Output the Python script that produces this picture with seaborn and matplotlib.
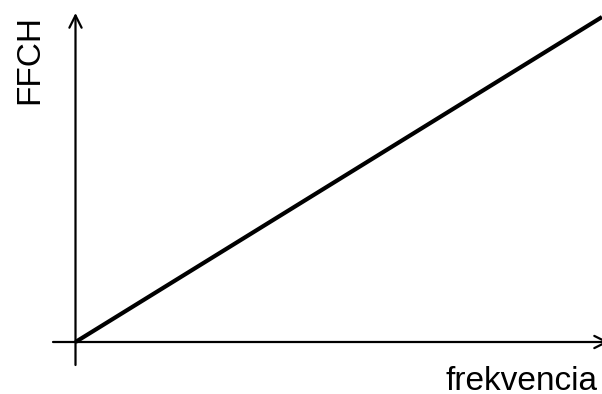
import matplotlib
matplotlib.use("Agg")
import matplotlib.pyplot as plt
import seaborn as sns
import pandas as pd

# Data
frekvencia = [0.0, 1.0]
ffch = [0.0, 1.0]
x_label = "frekvencia"
y_label = "FFCH"

sns.set_theme(style="white")
plt.rcParams['font.family'] = ['Liberation Sans', 'DejaVu Sans']

W, H = 602, 394
fig = plt.figure(figsize=(W / 100, H / 100), dpi=100)
ax = fig.add_axes([0, 0, 1, 1])
ax.set_axis_off()

df = pd.DataFrame({"x": frekvencia, "y": ffch})
sns.lineplot(data=df, x="x", y="y", ax=ax, color="black", linewidth=3.0,
             solid_capstyle="butt")

# map origin to pixel (75.5, 342 from top), (1,1) to (602, 17 from top)
x0, x1 = 75.5, 602.0
y0, y1 = H - 342.0, H - 17.0
sx = (x1 - x0)
sy = (y1 - y0)
ax.set_xlim(-x0 / sx, (W - x0) / sx)
ax.set_ylim(-y0 / sy, (H - y0) / sy)

# axes arrows (figure pixel coords, origin bottom-left)
arrow = dict(arrowstyle="->", lw=1.6, color="black", mutation_scale=22,
             shrinkA=0, shrinkB=0)
ax.annotate("", xy=(609, H - 342), xytext=(53, H - 342),
            xycoords="figure pixels", textcoords="figure pixels",
            arrowprops=arrow)
ax.annotate("", xy=(75.5, H - 13), xytext=(75.5, H - 365),
            xycoords="figure pixels", textcoords="figure pixels",
            arrowprops=arrow)

fig.text(598 / W, 3.5 / H, x_label, ha="right", va="baseline", fontsize=24,
         color="black")
fig.text(30 / W, (H - 59) / H, y_label, ha="center", va="center",
         rotation=90, fontsize=24, color="black")

fig.savefig("out.png", dpi=100, facecolor="white")
